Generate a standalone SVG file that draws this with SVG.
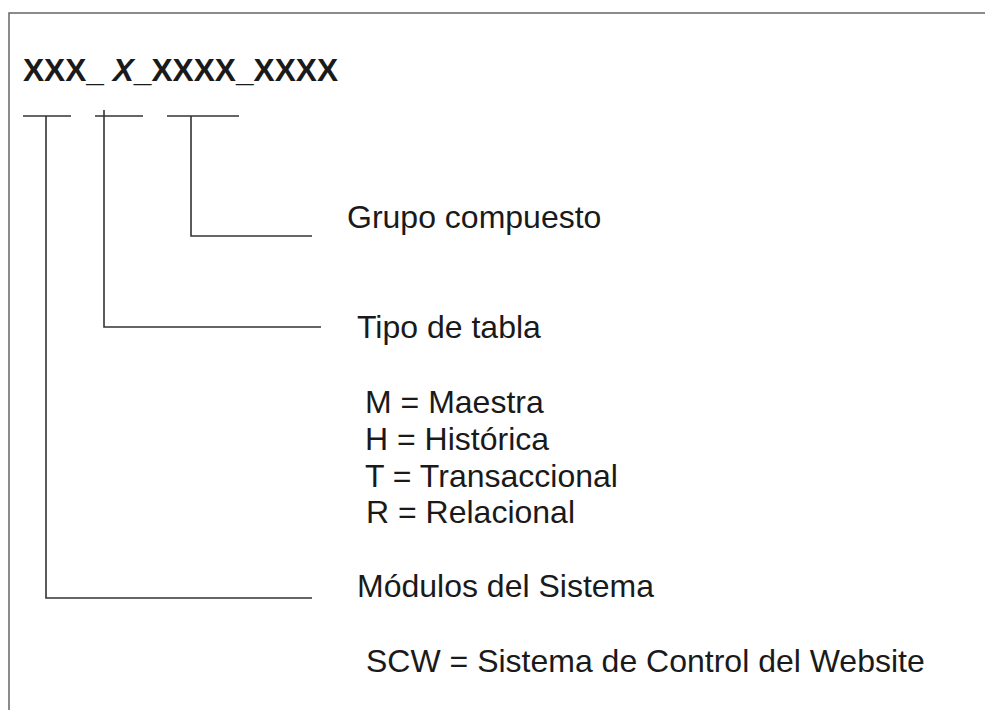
<svg xmlns="http://www.w3.org/2000/svg" width="985" height="710" viewBox="0 0 985 710">
<style>
.frame{fill:none;stroke:#666;stroke-width:1.5}
.ln{fill:none;stroke:#333;stroke-width:1.6}
.t{font-family:"Liberation Sans",Arial,sans-serif;font-size:32px;fill:#1a1a1a}
.title{font-family:"Liberation Sans",Arial,sans-serif;font-size:32px;font-weight:bold;fill:#1a1a1a}
</style>
<rect width="985" height="710" fill="#fff"/>
<path class="frame" d="M9,710 V13 H985"/>
<g id="title"><text class="title" x="23" y="81" textLength="315" lengthAdjust="spacingAndGlyphs">XXX_ <tspan font-style="italic">X</tspan>_XXXX_XXXX</text></g>
<g id="connectors">
<path class="ln" d="M23,116 H71 M46,116 V598 H312"/>
<path class="ln" d="M95,116 H143 M104,110 V327 H321"/>
<path class="ln" d="M167,116 H239 M191,116 V236 H312"/>
</g>
<g id="grupo"><text class="t" x="347" y="228">Grupo compuesto</text></g>
<g id="tipo">
<text class="t" x="357" y="338">Tipo de tabla</text>
<text class="t" x="365" y="413">M = Maestra</text>
<text class="t" x="365" y="450">H = Histórica</text>
<text class="t" x="365" y="487">T = Transaccional</text>
<text class="t" x="366" y="523">R = Relacional</text>
</g>
<g id="modulos">
<text class="t" x="357" y="597">Módulos del Sistema</text>
<text class="t" x="366" y="672">SCW = Sistema de Control del Website</text>
</g>
</svg>
